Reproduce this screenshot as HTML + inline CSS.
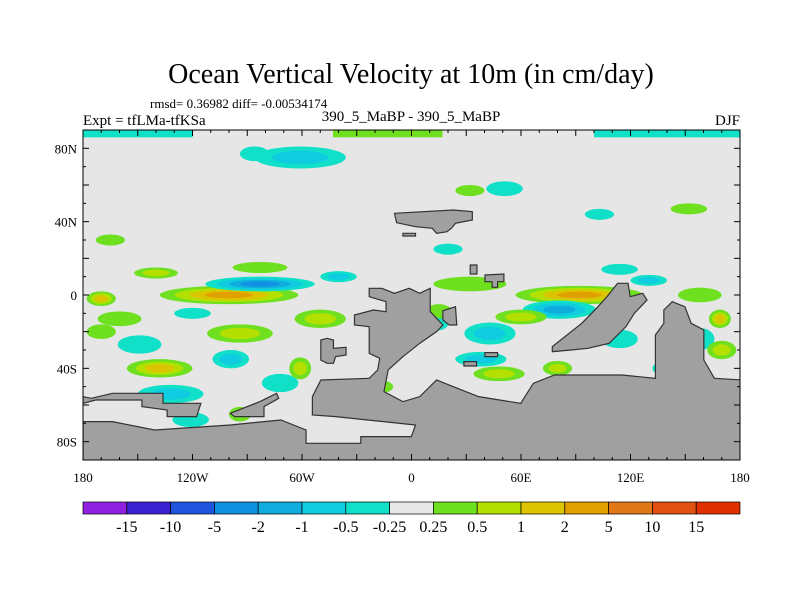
<!DOCTYPE html>
<html><head><meta charset="utf-8"><style>
body{margin:0;background:#fff;}
svg text{font-family:"Liberation Serif",serif;fill:#000;}
</style></head><body>
<svg id="c" width="800" height="600" viewBox="0 0 800 600">
<text x="411" y="83" font-size="28" text-anchor="middle">Ocean Vertical Velocity at 10m (in cm/day)</text>
<text x="150" y="108" font-size="13">rmsd= 0.36982 diff= -0.00534174</text>
<text x="83" y="125" font-size="15">Expt = tfLMa-tfKSa</text>
<text x="411" y="121" font-size="15" text-anchor="middle">390_5_MaBP - 390_5_MaBP</text>
<text x="740" y="125" font-size="15" text-anchor="end">DJF</text>
<defs><clipPath id="pc"><rect x="83" y="130" width="657" height="330"/></clipPath></defs>
<rect x="83" y="130" width="657" height="330" fill="#e6e6e6"/>
<g id="blobs" clip-path="url(#pc)"></g>
<g clip-path="url(#pc)">
<g transform="translate(83,260) scale(0.4209,0.3333)" fill="#a0a0a0" stroke="#333" stroke-width="1.2">
<polygon vector-effect="non-scaling-stroke" points="0,620 0,485 70,485 170,510 350,495 470,480 530,510 530,550 660,550 660,530 780,530 790,495 600,470 545,465 545,410 565,360 680,355 700,330 705,295 680,280 680,200 645,195 645,165 690,150 720,155 720,125 680,110 680,85 710,85 740,100 775,85 800,100 825,85 825,155 855,195 840,215 800,250 760,290 725,330 715,395 760,425 800,410 840,360 880,380 940,410 1040,430 1070,370 1120,345 1280,345 1360,355 1360,225 1380,190 1380,150 1400,125 1430,140 1445,190 1475,210 1475,300 1500,355 1568,360 1568,620"/>
<polygon vector-effect="non-scaling-stroke" points="0,410 20,415 70,400 190,400 190,430 280,430 270,470 200,470 200,450 140,440 140,420 30,420 0,430"/>
<polygon vector-effect="non-scaling-stroke" points="350,460 420,425 460,400 465,415 430,440 430,470 360,470"/>
<polygon vector-effect="non-scaling-stroke" points="1115,275 1115,260 1150,225 1185,190 1220,145 1245,110 1270,70 1295,70 1300,110 1330,100 1340,120 1310,160 1290,200 1250,250 1200,265 1160,270"/>
<polygon vector-effect="non-scaling-stroke" points="565,240 580,235 595,240 595,265 625,262 625,285 600,290 595,310 580,310 565,300"/>
<polygon vector-effect="non-scaling-stroke" points="855,152 885,140 888,195 870,195 855,180"/>
<polygon vector-effect="non-scaling-stroke" points="920,15 936,15 936,42 920,42"/>
<polygon vector-effect="non-scaling-stroke" points="955,45 1000,42 1000,65 985,65 985,82 972,82 972,65 955,65"/>
<polygon vector-effect="non-scaling-stroke" points="905,305 935,305 935,318 905,318"/>
<polygon vector-effect="non-scaling-stroke" points="955,278 985,278 985,290 955,290"/>
<polygon vector-effect="non-scaling-stroke" points="740,-140 880,-150 925,-145 925,-120 885,-110 875,-95 865,-85 840,-80 830,-95 790,-100 745,-112"/>
<polygon vector-effect="non-scaling-stroke" points="760,-80 790,-80 790,-72 760,-72"/>
</g>
</g>
<rect x="83" y="130" width="657" height="330" fill="none" stroke="#000" stroke-width="1"/>
<g id="axes"></g>
<g id="cbar"></g>
</svg>
<script>
const NS="http://www.w3.org/2000/svg";
const levelColors=["#9020e0","#3a22d0","#1f55dd","#1090e0","#10acde","#10cce0","#10e0c8","#e8e8e8","#6ee020","#b4e000","#dcc400","#e0a000","#e07818","#e05010","#e03000"];
const levelLabels=["-15","-10","-5","-2","-1","-0.5","-0.25","0.25","0.5","1","2","5","10","15"];
const lonTicks=[-180,-120,-60,0,60,120,180];
const lonTickLabels=["180","120W","60W","0","60E","120E","180"];
const latTicks=[80,40,0,-40,-80];
const latTickLabels=["80N","40N","0","40S","80S"];
// blobs: lon, lat, x-radius (deg), y-radius (deg), peak level
const blobLon=[-61,-86,51,32,103,152,-165,-83,-100,-83,92,81,32,-170,-149,-138,-132,-94,-99,-72,-50,-61,15,43,48,38,114,158,169,-28,10,-94,114,158,-160,-121,-140,-40,60,130,170,-10,-120,-20,80,140,-170,20];
const blobLat=[75,77,58,57,44,47,30,15,0,6,0,-8,6,-2,-27,-40,-54,-21,-35,-48,-13,-40,-10,-21,-43,-35,-24,-24,-13,-62,-16,-65,14,0,-13,-68,12,10,-12,8,-30,-30,-10,-50,-40,-40,-20,25];
const blobRx=[25,8,10,8,8,10,8,15,38,30,35,20,20,8,12,18,18,18,10,10,14,6,8,14,14,14,10,8,6,12,10,6,10,12,12,10,12,10,14,10,8,8,10,10,8,8,8,8];
const blobRy=[6,4,4,3,3,3,3,3,5,4,5,5,4,4,5,5,5,5,5,5,5,6,5,6,4,4,5,6,5,5,4,4,3,4,4,4,3,3,4,3,5,5,3,4,4,4,4,3];
const blobPeak=[5,6,6,8,6,8,8,8,11,3,11,4,8,10,6,10,5,9,5,6,9,9,8,5,9,5,6,6,10,6,6,8,6,8,8,6,9,5,9,5,9,6,6,9,9,6,8,6];
const X0=83,W=657,YT=130,H=330;
const xs=lon=>X0+(lon+180)/360*W;
const ys=lat=>YT+(90-lat)/180*H;
const g=document.getElementById('blobs');
[[-180,-120,6],[-43,17,8],[100,180,6]].forEach(s=>{
 const r=document.createElementNS(NS,'rect');
 r.setAttribute('x',xs(s[0]));r.setAttribute('y',YT);r.setAttribute('width',xs(s[1])-xs(s[0]));r.setAttribute('height',ys(86)-YT);
 r.setAttribute('fill',levelColors[s[2]]);
 
 
 g.appendChild(r);
});
for(let i=0;i<blobLon.length;i++){
 const p=blobPeak[i];
 const steps=p>7?p-7:7-p;
 for(let k=0;k<steps;k++){
  const lvl=p>7?8+k:6-k;
  const f=1-k/(steps+0.6);
  const e=document.createElementNS(NS,'ellipse');
  e.setAttribute('cx',xs(blobLon[i]));e.setAttribute('cy',ys(blobLat[i]));
  e.setAttribute('rx',blobRx[i]*W/360*f);e.setAttribute('ry',blobRy[i]*H/180*f);
  e.setAttribute('fill',levelColors[lvl]);
  
  
  g.appendChild(e);
 }
}
const ax=document.getElementById('axes');
function line(x1,y1,x2,y2,nm){const l=document.createElementNS(NS,'line');l.setAttribute('x1',x1);l.setAttribute('y1',y1);l.setAttribute('x2',x2);l.setAttribute('y2',y2);l.setAttribute('stroke','#000');
 
 
 ax.appendChild(l);}
function text(x,y,s,anc,nm,sz){const t=document.createElementNS(NS,'text');t.setAttribute('x',x);t.setAttribute('y',y);t.setAttribute('text-anchor',anc);t.setAttribute('font-size',sz||13);t.textContent=s;
 
 
 ax.appendChild(t);return t;}
for(let lon=-180;lon<=180;lon+=10){const big=lon%30===0;const L=big?6:3;
 line(xs(lon),YT+H,xs(lon),YT+H-L,'x-tick');line(xs(lon),YT,xs(lon),YT+L,'x-tick');}
for(let lat=-90;lat<=90;lat+=10){const big=lat%20===0;const L=big?6:3;
 line(X0,ys(lat),X0+L,ys(lat),'y-tick');line(X0+W,ys(lat),X0+W-L,ys(lat),'y-tick');}
lonTicks.forEach((v,i)=>text(xs(v),YT+H+22,lonTickLabels[i],'middle','x-tick-label'));
latTicks.forEach((v,i)=>text(X0-6,ys(v)+5,latTickLabels[i],'end','y-tick-label'));
const cb=document.getElementById('cbar');
const bw=W/levelColors.length;
levelColors.forEach((c,i)=>{const r=document.createElementNS(NS,'rect');
 r.setAttribute('x',X0+i*bw);r.setAttribute('y',502);r.setAttribute('width',bw);r.setAttribute('height',12);r.setAttribute('fill',c);r.setAttribute('stroke','#000');r.setAttribute('stroke-width','0.7');
 
 
 cb.appendChild(r);});
levelLabels.forEach((s,i)=>{const t=document.createElementNS(NS,'text');t.setAttribute('x',X0+(i+1)*bw);t.setAttribute('y',532);t.setAttribute('text-anchor','middle');t.setAttribute('font-size',16);t.textContent=s;
 
 
 cb.appendChild(t);});
</script>
</body></html>
